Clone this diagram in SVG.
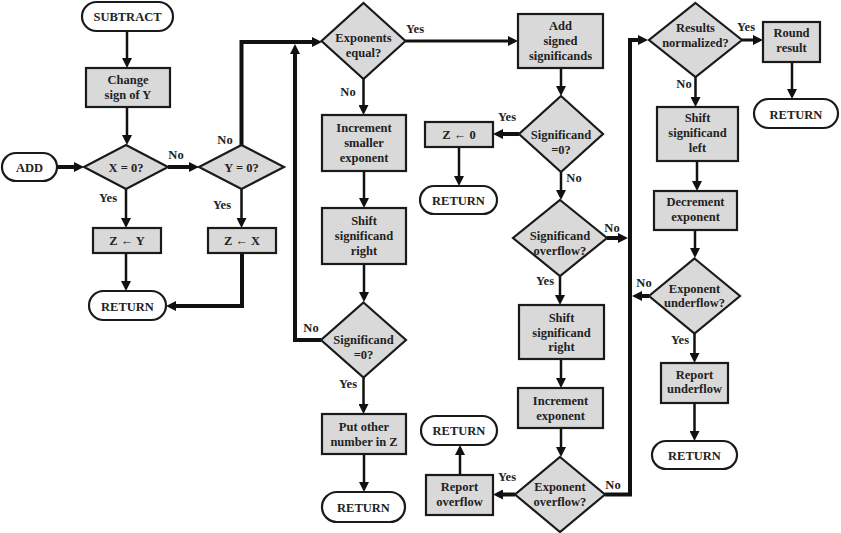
<svg xmlns="http://www.w3.org/2000/svg" width="841" height="533" viewBox="0 0 841 533">
<style>
.bg{fill:#fff}
.box{fill:#d9d9d9;stroke:#1a1a1a;stroke-width:2.2}
.term{fill:#fff;stroke:#1a1a1a;stroke-width:2.2}
text{font-family:'Liberation Serif','Times New Roman','DejaVu Serif',serif;font-weight:700;font-size:12.5px;text-anchor:middle;fill:#222}
.c{fill:none;stroke:#111;stroke-width:2.5;marker-end:url(#ah)}
.k{fill:none;stroke:#111;stroke-width:4;marker-end:url(#ah)}
</style>
<defs>
<marker id="ah" viewBox="0 0 10 10" refX="2" refY="5" markerWidth="10" markerHeight="10" markerUnits="userSpaceOnUse" orient="auto">
<path d="M0,0 L10,5 L0,10 z" fill="#111"/>
</marker>
</defs>
<rect class="bg" x="0" y="0" width="841" height="533"/>

<g id="connectors">
<path class="c" d="M127,31 V60"/>
<path class="c" d="M127,107 V137"/>
<path class="k" d="M57,167 H76"/>
<path class="k" d="M168,167 H191"/>
<path class="c" d="M126,189 V220"/>
<path class="c" d="M241.5,189 V220"/>
<path class="c" d="M126,253 V283"/>
<path class="k" d="M242,253 V306 H174"/>
<path class="k" d="M241.5,145 V42 H314"/>
<path class="k" d="M321,340 H295 V52"/>
<path class="c" style="stroke-width:3" d="M405.5,41 H510"/>
<path class="c" d="M363.5,79 V107"/>
<path class="c" d="M364,171 V200"/>
<path class="c" d="M364,264 V294"/>
<path class="c" d="M363.5,377.5 V406"/>
<path class="c" d="M364,454 V484"/>
<path class="k" d="M519,134 H501"/>
<path class="c" d="M459,147 V178"/>
<path class="c" d="M561,68 V88"/>
<path class="c" d="M561,172 V192"/>
<path class="k" d="M607,238 H620"/>
<path class="c" d="M560,276 V297"/>
<path class="c" d="M561,359 V380"/>
<path class="c" d="M561,428 V449"/>
<path class="k" d="M515,494.5 H501"/>
<path class="c" d="M460,475 V453"/>
<path class="k" d="M605,494.5 H630 V40 H640"/>
<path class="c" style="stroke-width:3" d="M742,40 H755"/>
<path class="c" d="M792,62 V91"/>
<path class="c" d="M695.5,77 V99"/>
<path class="c" d="M697,161 V183"/>
<path class="c" d="M695,230 V250"/>
<path class="k" d="M649,296 H640"/>
<path class="c" d="M694.5,333.5 V355"/>
<path class="c" d="M694.5,403 V433"/>
</g>

<g id="labels">
<text x="176" y="159">No</text>
<text x="225" y="144">No</text>
<text x="108" y="202">Yes</text>
<text x="222" y="209">Yes</text>
<text x="311" y="332">No</text>
<text x="415" y="33">Yes</text>
<text x="348" y="96">No</text>
<text x="348" y="388">Yes</text>
<text x="507" y="121">Yes</text>
<text x="574" y="182">No</text>
<text x="612" y="232">No</text>
<text x="545" y="285">Yes</text>
<text x="507" y="481">Yes</text>
<text x="613" y="489">No</text>
<text x="746" y="31">Yes</text>
<text x="684" y="88">No</text>
<text x="644" y="287">No</text>
<text x="680" y="344">Yes</text>
</g>

<g id="subtract"><rect class="term" x="82" y="2" width="91" height="29" rx="14.5"/><text x="127.5" y="20.5">SUBTRACT</text></g>
<g id="change-sign"><rect class="box" x="86" y="68" width="84" height="39"/><text x="128" y="83.5">Change</text><text x="128" y="98.5">sign of Y</text></g>
<g id="add"><rect class="term" x="2" y="153" width="55" height="28" rx="14"/><text x="29.5" y="171.5">ADD</text></g>
<g id="x-zero"><polygon class="box" points="126,145 168,167 126,189 84,167"/><text x="126" y="171.5">X = 0?</text></g>
<g id="y-zero"><polygon class="box" points="241.5,145 284,167 241.5,189 199,167"/><text x="241.5" y="171.5">Y = 0?</text></g>
<g id="z-y"><rect class="box" x="93" y="228" width="68" height="25"/><text x="127" y="244.5">Z ← Y</text></g>
<g id="z-x"><rect class="box" x="208" y="228" width="68" height="25"/><text x="242" y="244.5">Z ← X</text></g>
<g id="return1"><rect class="term" x="89" y="291" width="77" height="29" rx="14.5"/><text x="127.5" y="311">RETURN</text></g>

<g id="exp-equal"><polygon class="box" points="363.5,3 405.5,41 363.5,79 321.5,41"/><text x="363.5" y="41.5">Exponents</text><text x="363.5" y="56.5">equal?</text></g>
<g id="inc-smaller"><rect class="box" x="322" y="115" width="84" height="56"/><text x="364" y="131.5">Increment</text><text x="364" y="146.5">smaller</text><text x="364" y="161.5">exponent</text></g>
<g id="shift-right1"><rect class="box" x="322" y="208" width="84" height="56"/><text x="364" y="224.5">Shift</text><text x="364" y="239.5">significand</text><text x="364" y="254.5">right</text></g>
<g id="sig-zero1"><polygon class="box" points="363.5,302.5 406,340 363.5,377.5 321,340"/><text x="363.5" y="344">Significand</text><text x="363.5" y="359">=0?</text></g>
<g id="put-other"><rect class="box" x="322" y="414" width="84" height="40"/><text x="364" y="430.5">Put other</text><text x="364" y="445.5">number in Z</text></g>
<g id="return2"><rect class="term" x="322" y="492" width="83" height="30" rx="15"/><text x="363.5" y="511.5">RETURN</text></g>

<g id="z-zero"><rect class="box" x="425" y="122" width="68" height="25"/><text x="459" y="139">Z ←  0</text></g>
<g id="return3"><rect class="term" x="420" y="186" width="77" height="28" rx="14"/><text x="458.5" y="204.5">RETURN</text></g>
<g id="return4"><rect class="term" x="421" y="416" width="76" height="29" rx="14.5"/><text x="459" y="435">RETURN</text></g>
<g id="report-overflow"><rect class="box" x="426" y="475" width="67" height="40"/><text x="459.5" y="491">Report</text><text x="459.5" y="505.5">overflow</text></g>

<g id="add-signed"><rect class="box" x="518" y="14" width="85" height="54"/><text x="560.5" y="29.5">Add</text><text x="560.5" y="44.5">signed</text><text x="560.5" y="59.5">significands</text></g>
<g id="sig-zero2"><polygon class="box" points="561,96 603,134 561,172 519,134"/><text x="561" y="139">Significand</text><text x="561" y="154">=0?</text></g>
<g id="sig-overflow"><polygon class="box" points="560,200 607,238 560,276 513,238"/><text x="560" y="239.5">Significand</text><text x="560" y="254.5">overflow?</text></g>
<g id="shift-right2"><rect class="box" x="519" y="305" width="85" height="54"/><text x="561.5" y="321.5">Shift</text><text x="561.5" y="336.5">significand</text><text x="561.5" y="350.5">right</text></g>
<g id="inc-exp"><rect class="box" x="518" y="388" width="85" height="40"/><text x="560.5" y="404.5">Increment</text><text x="560.5" y="419.5">exponent</text></g>
<g id="exp-overflow"><polygon class="box" points="560,457 605,494.5 560,532 515,494.5"/><text x="560" y="491">Exponent</text><text x="560" y="505.5">overflow?</text></g>

<g id="results-norm"><polygon class="box" points="695.5,3 742,40 695.5,77 649,40"/><text x="695.5" y="32">Results</text><text x="695.5" y="47">normalized?</text></g>
<g id="round-result"><rect class="box" x="763" y="22" width="57" height="40"/><text x="791.5" y="37">Round</text><text x="791.5" y="52">result</text></g>
<g id="return5"><rect class="term" x="754" y="99" width="84" height="29" rx="14.5"/><text x="796" y="119">RETURN</text></g>
<g id="shift-left"><rect class="box" x="657" y="107" width="81" height="54"/><text x="697.5" y="122">Shift</text><text x="697.5" y="137">significand</text><text x="697.5" y="152">left</text></g>
<g id="dec-exp"><rect class="box" x="654" y="191" width="83" height="39"/><text x="695.5" y="206">Decrement</text><text x="695.5" y="221">exponent</text></g>
<g id="exp-underflow"><polygon class="box" points="694.5,258.5 740,296 694.5,333.5 649,296"/><text x="694.5" y="293">Exponent</text><text x="694.5" y="307">underflow?</text></g>
<g id="report-underflow"><rect class="box" x="661" y="363" width="67" height="40"/><text x="694.5" y="379">Report</text><text x="694.5" y="392.5">underflow</text></g>
<g id="return6"><rect class="term" x="652" y="441" width="85" height="28" rx="14"/><text x="694.5" y="460">RETURN</text></g>
</svg>
